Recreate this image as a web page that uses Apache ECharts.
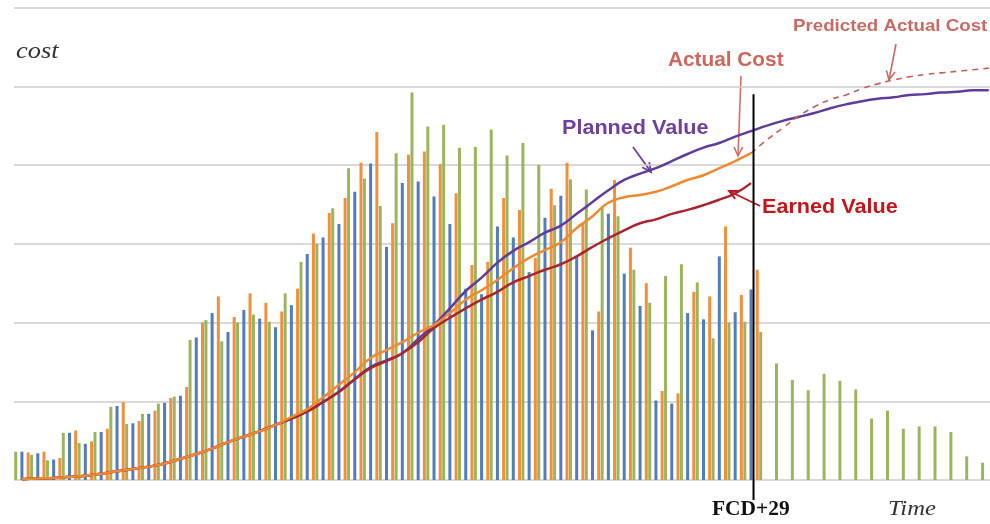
<!DOCTYPE html>
<html>
<head>
<meta charset="utf-8">
<script src="https://cdn.jsdelivr.net/npm/echarts@6/dist/echarts.min.js"></script>
<style>
  html, body { margin: 0; padding: 0; background: #fff; overflow: hidden; }
  /* the source picture is cropped on the right, so the chart is a bit wider than the window */
  #main { width: 1000px; height: 524px; }
</style>
</head>
<body>
<div id="main"></div>
<script>
// periods P1..P62, data date (FCD+29) at index 46
var periods = [];
for (var k = 1; k <= 62; k++) periods.push('P' + k);
var dataDate = 46;

// per-period bars
var plannedBars = [3.6, 3.2, 2.5, 6.0, 4.7, 6.1, 9.3, 7.1, 8.4, 9.7, 10.6, 17.8, 20.3, 17.6, 20.0, 21.0,
  20.1, 23.7, 27.7, 30.0, 34.5, 39.6, 38.3, 34.8, 41.5, 49.2, 44.9, 45.1, 42.2, 42.3, 44.5, 41.2,
  42.8, 40.0, 34.9, 38.2, 36.9, 34.6, 33.5, 26.7, 22.5, 25.9, 27.4, 25.1, 18.0, 20.0, 20.1, 18.8,
  14.8, 12.7, 11.4, 13.5, 12.6, 11.5, 7.8, 8.8, 6.5, 6.8, 6.8, 6.1, 3.0, 2.2];
var earnedBars = [3.6, 3.4, 2.6, 6.0, 4.6, 6.1, 9.4, 7.2, 8.4, 9.8, 10.7, 18.1, 21.2, 18.8, 21.6, 20.5,
  19.4, 22.2, 28.7, 30.8, 32.5, 36.6, 40.2, 29.6, 37.7, 37.9, 36.0, 32.5, 24.3, 23.6, 32.2, 30.8,
  26.4, 33.3, 36.1, 28.4, 19.0, 33.8, 26.2, 22.1, 10.1, 9.7, 21.2, 20.4, 28.4, 21.3, 24.2];
var actualBars = [3.5, 3.6, 2.8, 6.3, 4.9, 6.5, 9.9, 7.5, 8.8, 10.4, 11.8, 20.0, 23.3, 20.7, 23.7, 22.5,
  21.4, 24.3, 31.3, 33.9, 35.8, 40.3, 44.2, 32.6, 41.3, 41.7, 40.1, 36.4, 27.3, 27.7, 35.8, 34.3,
  28.2, 37.0, 40.3, 32.6, 21.4, 38.1, 29.5, 25.0, 11.3, 11.0, 23.9, 23.3, 32.2, 23.5, 26.7];

// cumulative curves
var plannedValue = [0.1, 0.2, 0.25, 0.4, 0.55, 0.8, 1.1, 1.4, 1.7, 2.1, 2.7, 3.3, 4.0, 4.8, 5.5, 6.2,
  7.0, 7.8, 8.7, 9.9, 11.2, 12.8, 14.35, 15.2, 16.1, 17.9, 19.7, 21.8, 24.0, 25.7, 27.6, 29.1,
  30.2, 31.4, 32.3, 33.8, 35.3, 36.8, 38.1, 38.9, 39.6, 40.5, 41.4, 42.2, 42.8, 43.6, 44.3, 45.0,
  45.6, 46.1, 46.6, 47.2, 47.7, 48.1, 48.4, 48.6, 48.9, 49.0, 49.2, 49.3, 49.5, 49.5];
var actualCost = [0.1, 0.2, 0.25, 0.4, 0.55, 0.8, 1.1, 1.4, 1.7, 2.1, 2.7, 3.3, 4.0, 4.8, 5.5, 6.2,
  7.0, 8.0, 9.0, 10.5, 12.1, 13.7, 15.5, 16.5, 17.5, 18.7, 19.7, 21.2, 22.9, 24.1, 25.4, 26.9,
  28.2, 29.2, 30.2, 32.0, 33.5, 35.2, 35.9, 36.2, 36.6, 37.3, 38.1, 38.7, 39.6, 40.5, 41.5];
var earnedValue = [0.1, 0.2, 0.25, 0.4, 0.55, 0.8, 1.1, 1.4, 1.7, 2.1, 2.7, 3.3, 4.0, 4.8, 5.5, 6.2,
  7.0, 7.8, 8.7, 9.9, 11.2, 12.8, 14.2, 15.1, 16.1, 17.5, 19.3, 20.6, 21.8, 22.9, 23.9, 25.1,
  25.9, 26.7, 27.4, 28.4, 29.6, 30.7, 31.7, 32.6, 33.1, 33.8, 34.3, 34.9, 35.6, 36.4, 37.7];
// predicted actual cost from the data date on
var predictedCost = [41.5, 43.2, 44.7, 46.2, 47.4, 48.3, 48.9, 49.7, 50.3, 50.8, 51.2, 51.5, 51.7,
  51.9, 52.1, 52.3];
var fcdTop = 49; // where the data-date line starts, in cost units

var predictedSeries = [];
for (var p = 0; p < periods.length; p++) {
  predictedSeries.push(p < dataDate ? null : predictedCost[p - dataDate]);
}

function arrow(x1, y1, x2, y2, color, w) {
  var a = Math.atan2(y2 - y1, x2 - x1), L = 10, s = 0.45;
  return [
    { type: 'line', silent: true, shape: { x1: x1, y1: y1, x2: x2, y2: y2 },
      style: { stroke: color, lineWidth: w } },
    { type: 'polyline', silent: true,
      shape: { points: [[x2 - L * Math.cos(a - s), y2 - L * Math.sin(a - s)], [x2, y2],
                        [x2 - L * Math.cos(a + s), y2 - L * Math.sin(a + s)]] },
      style: { stroke: color, lineWidth: w, fill: null } }
  ];
}

function label(text, x, y, font, color, sx) {
  return { type: 'text', x: x, y: y, scaleX: sx, silent: true,
    style: { text: text, font: font, fill: color, textVerticalAlign: 'middle', verticalAlign: 'middle' } };
}

var chartDom = document.getElementById('main');
var myChart = echarts.init(chartDom);
var option;

var labelFont = '"Liberation Sans", Arial, sans-serif';
var serifFont = '"Liberation Serif", "Times New Roman", serif';

option = {
  animation: false,
  backgroundColor: '#ffffff',
  grid: { left: 14, top: 7.5, height: 472.5, width: 982.7 },
  xAxis: {
    type: 'category',
    data: periods,
    axisLine: { show: false },
    axisTick: { show: false },
    axisLabel: { show: false }
  },
  yAxis: {
    type: 'value',
    min: 0,
    max: 60,
    interval: 10,
    axisLabel: { show: false },
    axisLine: { show: false },
    axisTick: { show: false },
    splitLine: { lineStyle: { color: '#cccccc', width: 1.5 } }
  },
  graphic: [
    label('cost', 16, 52, 'italic 24px ' + serifFont, '#333', 1.1),
    label('Time', 888, 509, 'italic 22px ' + serifFont, '#333', 1.12),
    label('FCD+29', 712, 510, 'bold 20px ' + serifFont, '#111', 1.07),
    label('Planned Value', 562, 128, 'bold 20px ' + labelFont, '#7040a0', 1.08),
    label('Actual Cost', 668, 60, 'bold 20px ' + labelFont, '#d0655c', 1.04),
    label('Earned Value', 762, 207, 'bold 20px ' + labelFont, '#c4141c', 1.08),
    label('Predicted Actual Cost', 793, 26, 'bold 17px ' + labelFont, '#c96a64', 1.1)
  ].concat(arrow(633, 147, 651, 172, '#6a3fa0', 1.8))
   .concat(arrow(741, 76, 738, 156, '#d0706a', 1.6))
   .concat(arrow(760, 206, 729, 191, '#c4141c', 1.8))
   .concat(arrow(896, 44, 889, 80, '#c96a64', 1.6)),
  series: [
    {
      name: 'Planned (period)', type: 'bar', data: plannedBars,
      barWidth: 3, barGap: '107%',
      itemStyle: { color: '#9bb55e' }
    },
    {
      name: 'Earned (period)', type: 'bar', data: earnedBars,
      barWidth: 3, barGap: '107%',
      itemStyle: { color: '#4f7dbd' }
    },
    {
      name: 'Actual (period)', type: 'bar', data: actualBars,
      barWidth: 3, barGap: '107%',
      itemStyle: { color: '#f0903c' }
    },
    {
      name: 'Planned Value', type: 'line', data: plannedValue, smooth: true, symbol: 'none',
      lineStyle: { color: '#5e3d9c', width: 2.5 }, z: 5
    },
    {
      name: 'Earned Value', type: 'line', data: earnedValue, smooth: true, symbol: 'none',
      lineStyle: { color: '#a8262e', width: 2.5 }, z: 5
    },
    {
      name: 'Actual Cost', type: 'line', data: actualCost, smooth: true, symbol: 'none',
      lineStyle: { color: '#f08a30', width: 2.5 }, z: 5
    },
    {
      name: 'Predicted Actual Cost', type: 'line', data: predictedSeries, smooth: true, symbol: 'none',
      lineStyle: { color: '#c0605a', width: 1.6, type: [6, 5] }, z: 5
    }
  ]
};

option && myChart.setOption(option);

// data-date line: placed through the axes, runs down past the baseline to the FCD label
var fcdX = myChart.convertToPixel({ xAxisIndex: 0 }, dataDate) + 2.5;
var fcdY1 = myChart.convertToPixel({ yAxisIndex: 0 }, fcdTop);
var fcdY0 = myChart.convertToPixel({ yAxisIndex: 0 }, 0);
myChart.setOption({
  graphic: option.graphic.concat([{
    type: 'line', silent: true, z: 10,
    shape: { x1: fcdX, y1: fcdY1, x2: fcdX, y2: fcdY0 + 20 },
    style: { stroke: '#000', lineWidth: 2 }
  }])
});
</script>
</body>
</html>
